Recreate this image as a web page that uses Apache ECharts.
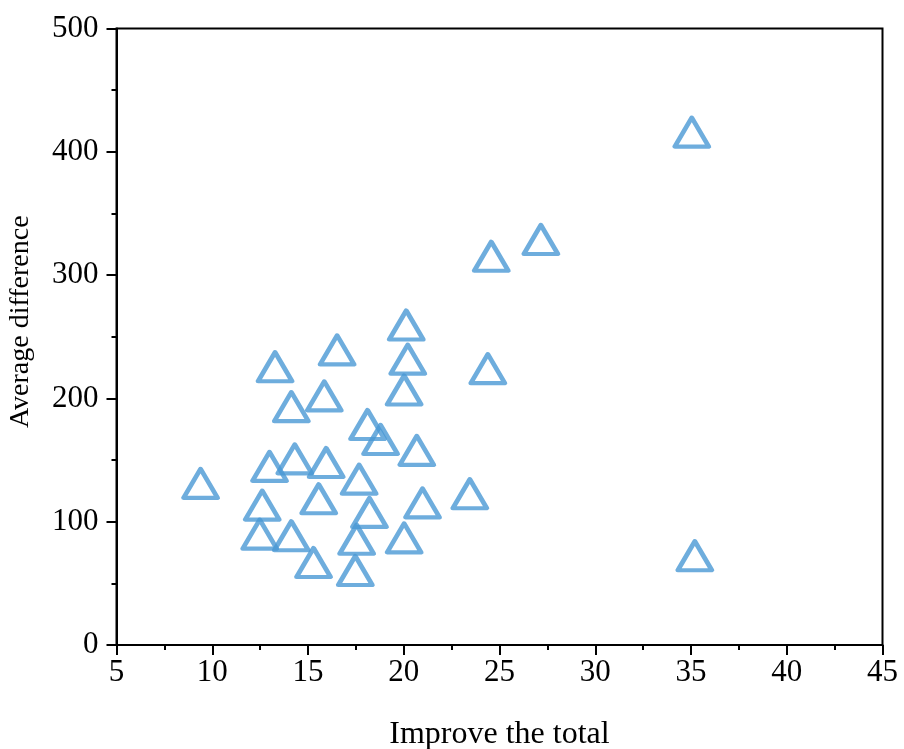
<!DOCTYPE html>
<html>
<head>
<meta charset="utf-8">
<script src="https://cdn.jsdelivr.net/npm/echarts@6/dist/echarts.min.js"></script>
<style>
    html, body { margin: 0; padding: 0; background: #fff; }
    #chart { width: 904px; height: 749px; }
</style>
</head>
<body>
<div id="chart"></div>
<script>
// values
var improveTotal = [9.39, 35.04, 35.2, 27.16, 24.57, 20.13, 20.21, 20.02, 24.39, 20.68,
    23.45, 20.98, 16.52, 13.28, 14.13, 15.85, 18.11, 18.79, 12.99, 14.31,
    15.95, 17.67, 12.61, 15.56, 18.21, 12.48, 14.13, 17.54, 20.02, 15.29, 17.47];
var averageDiff = [131.1, 416, 72.4, 328.9, 315.3, 259.5, 231.8, 206.8, 224.1, 157.9,
    122.7, 115.3, 239.3, 225.7, 193.3, 202.1, 178.8, 166.7, 144.9, 151,
    148, 134.5, 113.5, 118.6, 107.5, 89.9, 88.6, 85.8, 86.9, 66.9, 60.4];

var xTitle = 'Improve the total';
var yTitle = 'Average difference';

var points = [];
for (var i = 0; i < improveTotal.length; i++) {
    points.push([improveTotal[i], averageDiff[i]]);
}

var fontFamily = '"Liberation Serif", "Times New Roman", serif';
var lineStyle = { color: '#000', width: 2 };

var option = {
    animation: false,
    grid: {
        left: 116.5,
        right: 21.5,
        top: 28.5,
        bottom: 104,
        outerBoundsMode: 'none',
        containLabel: false,
        show: true,
        borderColor: '#000',
        borderWidth: 2
    },
    xAxis: {
        type: 'value',
        min: 5,
        max: 45,
        interval: 5,
        name: xTitle,
        nameLocation: 'middle',
        nameGap: 74,
        nameTextStyle: { fontFamily: fontFamily, fontSize: 32, color: '#000' },
        axisLine: { show: true, onZero: false, lineStyle: lineStyle },
        axisTick: { show: true, inside: false, length: 10, lineStyle: lineStyle },
        minorTick: { show: true, splitNumber: 2, length: 5, lineStyle: lineStyle },
        axisLabel: { fontFamily: fontFamily, fontSize: 31, color: '#000', margin: 12 },
        splitLine: { show: false }
    },
    yAxis: {
        type: 'value',
        min: 0,
        max: 500,
        interval: 100,
        name: yTitle,
        nameLocation: 'middle',
        nameGap: 82,
        // title sits a little above the middle of the axis
        nameTextStyle: { fontFamily: fontFamily, fontSize: 28, color: '#000', padding: [0, 0, 0, 30] },
        axisLine: { show: true, onZero: false, lineStyle: lineStyle },
        axisTick: { show: true, inside: false, length: 10, lineStyle: lineStyle },
        minorTick: { show: true, splitNumber: 2, length: 5, lineStyle: lineStyle },
        axisLabel: { fontFamily: fontFamily, fontSize: 31, color: '#000', margin: 18 },
        splitLine: { show: false }
    },
    series: [
        {
            type: 'scatter',
            symbol: 'triangle',
            symbolSize: [34, 29],
            itemStyle: {
                color: 'transparent',
                borderColor: '#4A98D4',
                borderWidth: 4.5,
                borderJoin: 'round'
            },
            data: points
        }
    ]
};

var myChart = echarts.init(document.getElementById('chart'));
myChart.setOption(option);
</script>
</body>
</html>
